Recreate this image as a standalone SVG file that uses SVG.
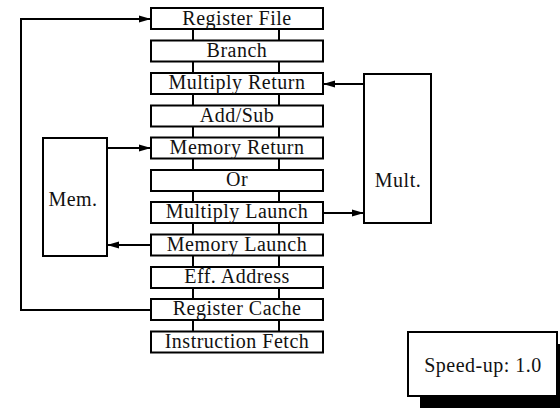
<svg xmlns="http://www.w3.org/2000/svg" width="560" height="408" viewBox="0 0 560 408">
  <style>
    .box { fill: #fff; stroke: #000; stroke-width: 2; }
    .lbl { font-family: "Liberation Serif", "Times New Roman", serif; font-size: 20px; letter-spacing: 0.5px; fill: #111; text-anchor: middle; }
    .wire { fill: none; stroke: #000; stroke-width: 2; }
  </style>
  <defs>
    <marker id="ah" viewBox="0 0 12 8" refX="12" refY="4" markerWidth="12" markerHeight="8" markerUnits="userSpaceOnUse" orient="auto">
      <path d="M0,0.5 L12,4 L0,7.5 z" fill="#000"/>
    </marker>
  </defs>
  <rect width="560" height="408" fill="#fff"/>

  <!-- pipeline stage links -->
  <g id="connectors">
    <path class="wire" d="M193,29 V40 M279,29 V40 M193,61 V73 M279,61 V73 M193,94 V105 M279,94 V105 M193,126 V137 M279,126 V137 M193,159 V170 M279,159 V170 M193,191 V202 M279,191 V202 M193,223 V234 M279,223 V234 M193,256 V267 M279,256 V267 M193,288 V299 M279,288 V299 M193,320 V331 M279,320 V331"/>
    <!-- register cache feedback loop -->
    <path class="wire" d="M151,310 H21 V19 H151" marker-end="url(#ah)"/>
    <!-- memory unit -->
    <path class="wire" d="M107,148 H151" marker-end="url(#ah)"/>
    <path class="wire" d="M151,245 H107" marker-end="url(#ah)"/>
    <!-- multiplier unit -->
    <path class="wire" d="M364,84 H323" marker-end="url(#ah)"/>
    <path class="wire" d="M323,213 H364" marker-end="url(#ah)"/>
  </g>

  <g id="register-file"><rect class="box" x="151" y="8" width="172" height="21"/><text class="lbl" x="237" y="24.5">Register File</text></g>
  <g id="branch"><rect class="box" x="151" y="40.5" width="172" height="21"/><text class="lbl" x="237" y="57">Branch</text></g>
  <g id="multiply-return"><rect class="box" x="151" y="73" width="172" height="21"/><text class="lbl" x="237" y="89">Multiply Return</text></g>
  <g id="add-sub"><rect class="box" x="151" y="105.5" width="172" height="21"/><text class="lbl" x="237" y="121.5">Add/Sub</text></g>
  <g id="memory-return"><rect class="box" x="151" y="137.5" width="172" height="21"/><text class="lbl" x="237" y="153.5">Memory Return</text></g>
  <g id="or"><rect class="box" x="151" y="170" width="172" height="21"/><text class="lbl" x="237" y="186">Or</text></g>
  <g id="multiply-launch"><rect class="box" x="151" y="202" width="172" height="21"/><text class="lbl" x="237" y="218">Multiply Launch</text></g>
  <g id="memory-launch"><rect class="box" x="151" y="234.5" width="172" height="21"/><text class="lbl" x="237" y="250.5">Memory Launch</text></g>
  <g id="eff-address"><rect class="box" x="151" y="267" width="172" height="21"/><text class="lbl" x="237" y="283">Eff. Address</text></g>
  <g id="register-cache"><rect class="box" x="151" y="299" width="172" height="21"/><text class="lbl" x="237" y="315">Register Cache</text></g>
  <g id="instruction-fetch"><rect class="box" x="151" y="331.5" width="172" height="21"/><text class="lbl" x="237" y="347.5">Instruction Fetch</text></g>

  <g id="mem"><rect class="box" x="43" y="138" width="64" height="118"/><text class="lbl" x="73" y="206">Mem.</text></g>
  <g id="mult"><rect class="box" x="364" y="74" width="67" height="149"/><text class="lbl" x="398" y="187">Mult.</text></g>

  <g id="speed-up">
    <rect x="420" y="344" width="149" height="64" fill="#000"/>
    <rect class="box" x="408" y="332" width="149" height="64"/>
    <text class="lbl" x="483" y="372">Speed-up: 1.0</text>
  </g>
</svg>
